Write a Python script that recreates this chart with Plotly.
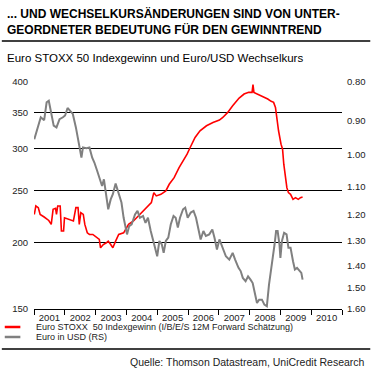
import plotly.graph_objects as go
import numpy as np

# ---- data ----
years = ["2001", "2002", "2003", "2004", "2005", "2006", "2007", "2008", "2009", "2010"]

eps_t = [2001.01, 2001.06, 2001.14, 2001.20, 2001.33, 2001.48, 2001.56, 2001.62, 2001.70, 2001.73,
         2001.77, 2001.85, 2001.89, 2001.96, 2001.99, 2002.12, 2002.28, 2002.36, 2002.43, 2002.47,
         2002.52, 2002.60, 2002.65, 2002.73, 2002.80, 2002.91, 2003.02, 2003.12, 2003.16, 2003.25,
         2003.35, 2003.41, 2003.49, 2003.56, 2003.65, 2003.75, 2003.91, 2003.98, 2004.07, 2004.23,
         2004.39, 2004.54, 2004.70, 2004.81, 2004.89, 2004.97, 2005.12, 2005.28, 2005.39, 2005.55,
         2005.71, 2005.84, 2005.97, 2006.07, 2006.23, 2006.39, 2006.60, 2006.81, 2007.02, 2007.13,
         2007.29, 2007.45, 2007.66, 2007.82, 2007.97, 2008.08, 2008.11, 2008.14, 2008.29, 2008.45,
         2008.59, 2008.70, 2008.78, 2008.84, 2008.88, 2008.94, 2009.02, 2009.07, 2009.11, 2009.16,
         2009.21, 2009.26, 2009.33, 2009.41, 2009.49, 2009.58, 2009.65, 2009.72]
eps_v = [225.7, 234.1, 232.4, 225.7, 223.2, 219.9, 216.2, 230.7, 231.7, 225.7,
         234.1, 234.1, 210.1, 210.1, 222.5, 220.9, 219.4, 232.4, 232.4, 216.2,
         227.4, 225.7, 216.2, 208.5, 207.0, 207.0, 204.7, 202.6, 195.4, 198.2,
         199.7, 201.1, 198.2, 195.4, 201.1, 207.0, 208.5, 211.5, 216.2, 219.4,
         224.2, 229.1, 234.1, 237.5, 248.0, 244.5, 246.2, 249.8, 257.1, 264.6,
         276.4, 284.5, 292.8, 301.4, 314.7, 324.0, 331.1, 335.9, 339.3, 343.2,
         350.8, 361.1, 373.2, 379.7, 382.5, 382.5, 395.5, 382.5, 378.8, 375.5,
         371.6, 367.9, 366.3, 358.5, 343.2, 324.0, 305.8, 299.2, 280.4, 268.4,
         253.4, 248.0, 246.2, 240.9, 242.7, 240.9, 242.7, 243.4]

fx_t = [2001.01, 2001.12, 2001.22, 2001.33, 2001.41, 2001.48, 2001.56, 2001.64, 2001.73, 2001.83,
        2001.94, 2002.01, 2002.09, 2002.17, 2002.26, 2002.36, 2002.43, 2002.49, 2002.54, 2002.59,
        2002.70, 2002.80, 2002.89, 2002.96, 2003.05, 2003.14, 2003.21, 2003.27, 2003.33, 2003.41,
        2003.49, 2003.56, 2003.65, 2003.73, 2003.84, 2003.91, 2004.02, 2004.09, 2004.17, 2004.28,
        2004.36, 2004.44, 2004.54, 2004.62, 2004.70, 2004.79, 2004.86, 2004.93, 2005.00, 2005.07,
        2005.15, 2005.21, 2005.28, 2005.36, 2005.44, 2005.53, 2005.60, 2005.67, 2005.74, 2005.84,
        2005.91, 2005.99, 2006.09, 2006.18, 2006.26, 2006.34, 2006.41, 2006.50, 2006.58, 2006.69,
        2006.79, 2006.86, 2006.94, 2007.02, 2007.13, 2007.23, 2007.34, 2007.45, 2007.53, 2007.64,
        2007.71, 2007.78, 2007.87, 2007.95, 2008.03, 2008.10, 2008.18, 2008.24, 2008.31, 2008.40,
        2008.48, 2008.56, 2008.63, 2008.70, 2008.75, 2008.81, 2008.86, 2008.91, 2008.97, 2009.00,
        2009.05, 2009.12, 2009.20, 2009.26, 2009.33, 2009.41, 2009.47, 2009.54, 2009.62, 2009.68,
        2009.72]
fx_v = [0.953, 0.919, 0.891, 0.899, 0.851, 0.847, 0.882, 0.914, 0.919, 0.896,
        0.891, 0.886, 0.866, 0.873, 0.882, 0.919, 0.948, 0.982, 1.008, 0.977,
        0.979, 0.977, 1.008, 1.023, 1.049, 1.077, 1.099, 1.077, 1.122, 1.180,
        1.145, 1.127, 1.091, 1.116, 1.156, 1.211, 1.274, 1.242, 1.236, 1.199,
        1.186, 1.211, 1.204, 1.230, 1.211, 1.261, 1.300, 1.327, 1.362, 1.300,
        1.314, 1.348, 1.300, 1.287, 1.236, 1.204, 1.211, 1.248, 1.211, 1.180,
        1.174, 1.211, 1.192, 1.186, 1.211, 1.261, 1.294, 1.261, 1.280, 1.274,
        1.255, 1.287, 1.334, 1.294, 1.327, 1.362, 1.376, 1.348, 1.376, 1.411,
        1.425, 1.455, 1.470, 1.448, 1.463, 1.478, 1.531, 1.571, 1.555, 1.555,
        1.579, 1.587, 1.485, 1.425, 1.369, 1.314, 1.261, 1.261, 1.314, 1.369,
        1.300, 1.268, 1.274, 1.327, 1.327, 1.383, 1.418, 1.411, 1.425, 1.433,
        1.463]

left_ticks = [150, 200, 250, 300, 350, 400]
right_ticks = [0.80, 0.90, 1.00, 1.10, 1.20, 1.30, 1.40, 1.50, 1.60]

title_text = "... UND WECHSELKURSÄNDERUNGEN SIND VON UNTER-<br>GEORDNETER BEDEUTUNG FÜR DEN GEWINNTREND"
subtitle_text = "Euro STOXX 50 Indexgewinn und Euro/USD Wechselkurs"
legend_eps = "Euro STOXX  50 Indexgewinn (I/B/E/S 12M Forward Schätzung)"
legend_fx = "Euro in USD (RS)"
source_text = "Quelle: Thomson Datastream, UniCredit Research"

RED = "#ff0000"
GREY = "#808080"
FONT = "Liberation Sans, Arial, sans-serif"

W, H = 378, 371
L, R, T, B = 33, 29, 82, 62
PW, PH = W - L - R, H - T - B


def px_x(p):
    return (p - L) / PW


def px_y(p):
    return (H - B - p) / PH


fig = go.Figure()
fig.add_trace(go.Scatter(x=fx_t, y=fx_v, mode="lines", yaxis="y2",
                         line=dict(color=GREY, width=2), name=legend_fx, showlegend=False))
fig.add_trace(go.Scatter(x=eps_t, y=eps_v, mode="lines", yaxis="y",
                         line=dict(color=RED, width=1.6), name=legend_eps, showlegend=False))

fig.update_layout(
    width=W, height=H,
    margin=dict(l=L, r=R, t=T, b=B, pad=0),
    paper_bgcolor="white", plot_bgcolor="white",
    font=dict(family=FONT, size=10, color="#222"),
    xaxis=dict(range=[2001, 2011], showgrid=False, zeroline=False,
               showline=True, linecolor="black", linewidth=1,
               tickvals=[y + 0.5 for y in range(2001, 2011)], ticktext=years,
               ticks="", tickfont=dict(size=9.5, color="#222"), ticklabelstandoff=0,
               minor=dict(tickvals=list(range(2001, 2012)), ticks="outside",
                          ticklen=5, tickcolor="black", showgrid=False)),
    yaxis=dict(type="log", range=[np.log10(150), np.log10(400)],
               tickvals=left_ticks, ticktext=[str(v) for v in left_ticks],
               showgrid=True, gridcolor="black", gridwidth=1, zeroline=False,
               showline=False, ticks="", tickfont=dict(size=9.5, color="#222"),
               ticklabelstandoff=5),
    yaxis2=dict(type="log", range=[np.log10(1.6), np.log10(0.8)], overlaying="y", side="right",
                tickvals=right_ticks, ticktext=[f"{v:.2f}" for v in right_ticks],
                showgrid=False, zeroline=False, showline=False, ticks="",
                tickfont=dict(size=9.5, color="#222"), ticklabelstandoff=4),
    showlegend=False,
)

shapes = [
    dict(type="line", xref="paper", yref="paper", x0=px_x(0), x1=px_x(W), y0=px_y(41), y1=px_y(41),
         line=dict(color="black", width=1.5)),
    dict(type="line", xref="paper", yref="paper", x0=px_x(0), x1=px_x(W), y0=px_y(349), y1=px_y(349),
         line=dict(color="black", width=1.5)),
    dict(type="line", xref="paper", yref="paper", x0=px_x(3), x1=px_x(19), y0=px_y(327), y1=px_y(327),
         line=dict(color=RED, width=2.5)),
    dict(type="line", xref="paper", yref="paper", x0=px_x(3), x1=px_x(19), y0=px_y(337), y1=px_y(337),
         line=dict(color=GREY, width=2.5)),
]
fig.update_layout(shapes=shapes)

annos = [
    dict(text="<b>" + title_text + "</b>", x=px_x(3), y=px_y(4), xanchor="left", yanchor="top",
         font=dict(size=12, color="black", family=FONT), align="left"),
    dict(text=subtitle_text, x=px_x(3), y=px_y(58), xanchor="left", yanchor="middle",
         font=dict(size=11.5, color="black", family=FONT)),
    dict(text=legend_eps, x=px_x(33), y=px_y(327), xanchor="left", yanchor="middle",
         font=dict(size=9, color="#222", family=FONT)),
    dict(text=legend_fx, x=px_x(33), y=px_y(337), xanchor="left", yanchor="middle",
         font=dict(size=9, color="#222", family=FONT)),
    dict(text=source_text, x=px_x(375), y=px_y(362), xanchor="right", yanchor="middle",
         font=dict(size=10.5, color="#222", family=FONT)),
]
for a in annos:
    a.update(xref="paper", yref="paper", showarrow=False)
fig.update_layout(annotations=annos)

fig.write_html("out.html", config={"displayModeBar": False},
               post_script="document.body.style.margin='0';")
